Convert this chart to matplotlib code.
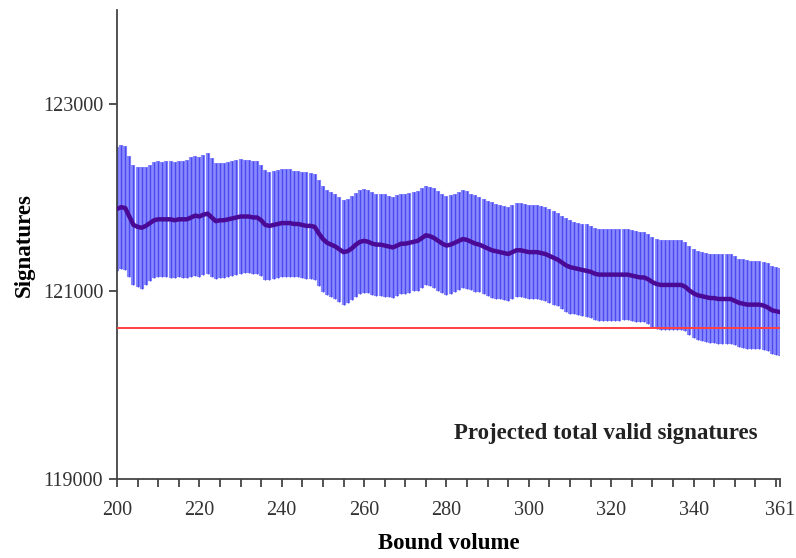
import matplotlib
matplotlib.use("Agg")
import matplotlib.pyplot as plt
import numpy as np

volumes = list(range(200, 362))

mean_signatures = [
    121880, 121900, 121890, 121800, 121710, 121690, 121680, 121700, 121730, 121760,
    121770, 121770, 121770, 121770, 121760, 121770, 121770, 121770, 121790, 121810,
    121800, 121820, 121830, 121790, 121750, 121760, 121760, 121770, 121780, 121790,
    121800, 121800, 121800, 121790, 121790, 121760, 121710, 121700, 121710, 121720,
    121730, 121730, 121730, 121720, 121720, 121710, 121700, 121700, 121690, 121620,
    121560, 121520, 121500, 121480, 121450, 121420, 121430, 121460, 121500, 121530,
    121540, 121530, 121510, 121500, 121500, 121490, 121480, 121470, 121490, 121510,
    121510, 121520, 121530, 121540, 121570, 121600, 121590, 121570, 121540, 121510,
    121490, 121500, 121520, 121540, 121560, 121550, 121530, 121510, 121500, 121480,
    121460, 121440, 121430, 121420, 121410, 121400, 121420, 121440, 121440, 121430,
    121420, 121420, 121420, 121410, 121400, 121380, 121360, 121340, 121310, 121280,
    121260, 121250, 121240, 121230, 121220, 121210, 121190, 121180, 121180, 121180,
    121180, 121180, 121180, 121180, 121180, 121170, 121160, 121150, 121150, 121130,
    121100, 121080, 121070, 121070, 121070, 121070, 121070, 121070, 121050, 121010,
    120980, 120960, 120950, 120940, 120930, 120930, 120920, 120920, 120920, 120920,
    120900, 120880, 120870, 120860, 120860, 120860, 120860, 120850, 120830, 120800,
    120790, 120780,
]

error_halfwidth = [
    660, 665, 660, 650, 640, 640, 650, 630, 620, 620,
    620, 615, 620, 625, 620, 620, 625, 630, 640, 640,
    640, 640, 645, 630, 620, 615, 615, 610, 610, 610,
    610, 605, 600, 600, 600, 590, 585, 580, 580, 580,
    575, 575, 575, 570, 570, 570, 570, 565, 565, 565,
    565, 560, 560, 560, 560, 560, 555, 555, 555, 555,
    555, 550, 550, 545, 545, 545, 540, 540, 540, 535,
    535, 535, 530, 530, 530, 530, 530, 530, 530, 530,
    530, 525, 525, 520, 520, 520, 515, 515, 510, 510,
    510, 510, 505, 505, 505, 500, 500, 500, 500, 500,
    500, 500, 500, 500, 500, 500, 500, 500, 500, 500,
    500, 495, 495, 495, 495, 490, 490, 490, 490, 490,
    490, 490, 490, 485, 485, 485, 485, 480, 480, 480,
    480, 480, 480, 480, 480, 478, 478, 476, 476, 476,
    475, 475, 475, 475, 475, 475, 475, 475, 475, 475,
    475, 472, 472, 472, 470, 470, 470, 470, 470, 470,
    470, 470,
]

projected_total = 120610

x_major_ticks = [200, 220, 240, 260, 280, 300, 320, 340, 361]
y_major_ticks = [119000, 121000, 123000]

plt.rcParams['font.family'] = ['Liberation Serif', 'DejaVu Serif']

fig = plt.figure(figsize=(7.96, 5.58), dpi=100)
ax = fig.add_axes([0.147, 0.1416, 0.833, 0.84])

ax.errorbar(volumes, mean_signatures, yerr=error_halfwidth, fmt='none',
            ecolor='#8a8aff', elinewidth=3.0, capsize=0, zorder=2)
ax.errorbar(volumes, mean_signatures, yerr=error_halfwidth, fmt='none',
            ecolor='#4a4af0', elinewidth=1.0, capsize=0, zorder=2)
ax.plot(volumes, mean_signatures, color='#4b0a96', lw=3.2, zorder=3,
        solid_capstyle='round')
ax.axhline(projected_total, color='#ff4040', lw=1.4, zorder=4)

ax.set_xlim(200, 361)
ax.set_ylim(119000, 124000)
ax.set_xticks(x_major_ticks)
ax.set_xticklabels([str(v) for v in x_major_ticks])
ax.set_xticks(list(range(205, 361, 5)), minor=True)
ax.set_yticks(y_major_ticks)
ax.set_yticklabels([str(v) for v in y_major_ticks])

for s in ['top', 'right']:
    ax.spines[s].set_visible(False)
for s in ['left', 'bottom']:
    ax.spines[s].set_color('#444444')
    ax.spines[s].set_linewidth(1.3)

ax.tick_params(axis='both', which='major', direction='out', length=6,
               width=1.3, color='#444444', labelsize=14.5, labelcolor='#333333')
ax.tick_params(axis='x', which='minor', direction='out', length=6,
               width=1.3, color='#444444')
ax.tick_params(axis='x', pad=10)
ax.tick_params(axis='y', pad=4)

ax.set_xlabel('Bound volume', fontsize=16.5, fontweight='bold', labelpad=9)
ax.set_ylabel('Signatures', fontsize=16.5, fontweight='bold', labelpad=6)

ax.text(0.737, 0.098, 'Projected total valid signatures', transform=ax.transAxes,
        ha='center', va='center', fontsize=16.5, fontweight='bold', color='#222222')

fig.savefig('out.png', dpi=100)
